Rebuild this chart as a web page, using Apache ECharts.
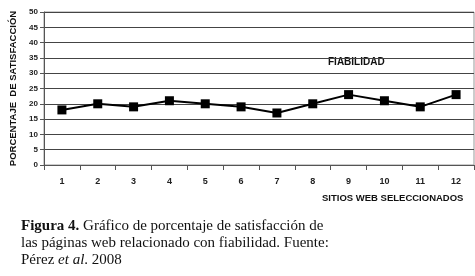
<!DOCTYPE html>
<html><head><meta charset="utf-8">
<script src="https://cdn.jsdelivr.net/npm/echarts@6/dist/echarts.min.js"></script>
<style>html,body{margin:0;padding:0;background:#fff}#c{width:475px;height:276px}</style>
</head><body><div id="c"></div>
<script>
var categories = ['1','2','3','4','5','6','7','8','9','10','11','12'];
var fiabilidad = [18, 20, 19, 21, 20, 19, 17, 20, 23, 21, 19, 23];
var seriesName = 'FIABILIDAD';
var yTitle = 'PORCENTAJE  DE SATISFACCIÓN';
var xTitle = 'SITIOS WEB SELECCIONADOS';

var chart = echarts.init(document.getElementById('c'), null, {renderer: 'canvas'});
chart.setOption({
  animation: false,
  backgroundColor: '#fff',
  grid: {left: 41, right: 1, top: 12, bottom: 111, show: true, borderColor: '#999', borderWidth: 1},
  xAxis: {
    type: 'category', data: categories, boundaryGap: true,
    axisLine: {lineStyle: {color: '#555', width: 1}},
    axisTick: {show: true, length: 5, lineStyle: {color: '#555'}},
    axisLabel: {color: '#222', fontFamily: 'Liberation Sans', fontWeight: 'bold', fontSize: 9, margin: 12}
  },
  yAxis: {
    type: 'value', min: 0, max: 50, interval: 5,
    axisLine: {show: true, lineStyle: {color: '#555', width: 1}},
    axisTick: {show: true, length: 4, lineStyle: {color: '#555'}},
    splitLine: {lineStyle: {color: '#444', width: 1}},
    axisLabel: {color: '#222', fontFamily: 'Liberation Sans', fontWeight: 'bold', fontSize: 8, margin: 6},
    name: yTitle, nameLocation: 'middle', nameGap: 26, nameRotate: 90,
    nameTextStyle: {color: '#111', fontFamily: 'Liberation Sans', fontWeight: 'bold', fontSize: 9.5}
  },
  series: [{
    type: 'line', name: seriesName, data: fiabilidad,
    symbol: 'rect', symbolSize: 9,
    lineStyle: {color: '#000', width: 2},
    itemStyle: {color: '#000'}
  }],
  graphic: [
    {type: 'text', left: 328, top: 57, style: {text: seriesName, fill: '#111', font: 'bold 10px "Liberation Sans"'}},
    {type: 'text', left: 322, top: 193, style: {text: xTitle, fill: '#111', font: 'bold 9.5px "Liberation Sans"'}},
    {type: 'text', left: 21, top: 218, style: {
      text: '{b|Figura 4.} Gráfico de porcentaje de satisfacción de\nlas páginas web relacionado con fiabilidad. Fuente:\nPérez {i|et al}. 2008',
      lineHeight: 17,
      font: '15px "Liberation Serif"', fill: '#111',
      rich: {
        b: {font: 'bold 15px "Liberation Serif"', fill: '#111', lineHeight: 17},
        i: {font: 'italic 15px "Liberation Serif"', fill: '#111', lineHeight: 17}
      }
    }}
  ]
});
</script></body></html>
